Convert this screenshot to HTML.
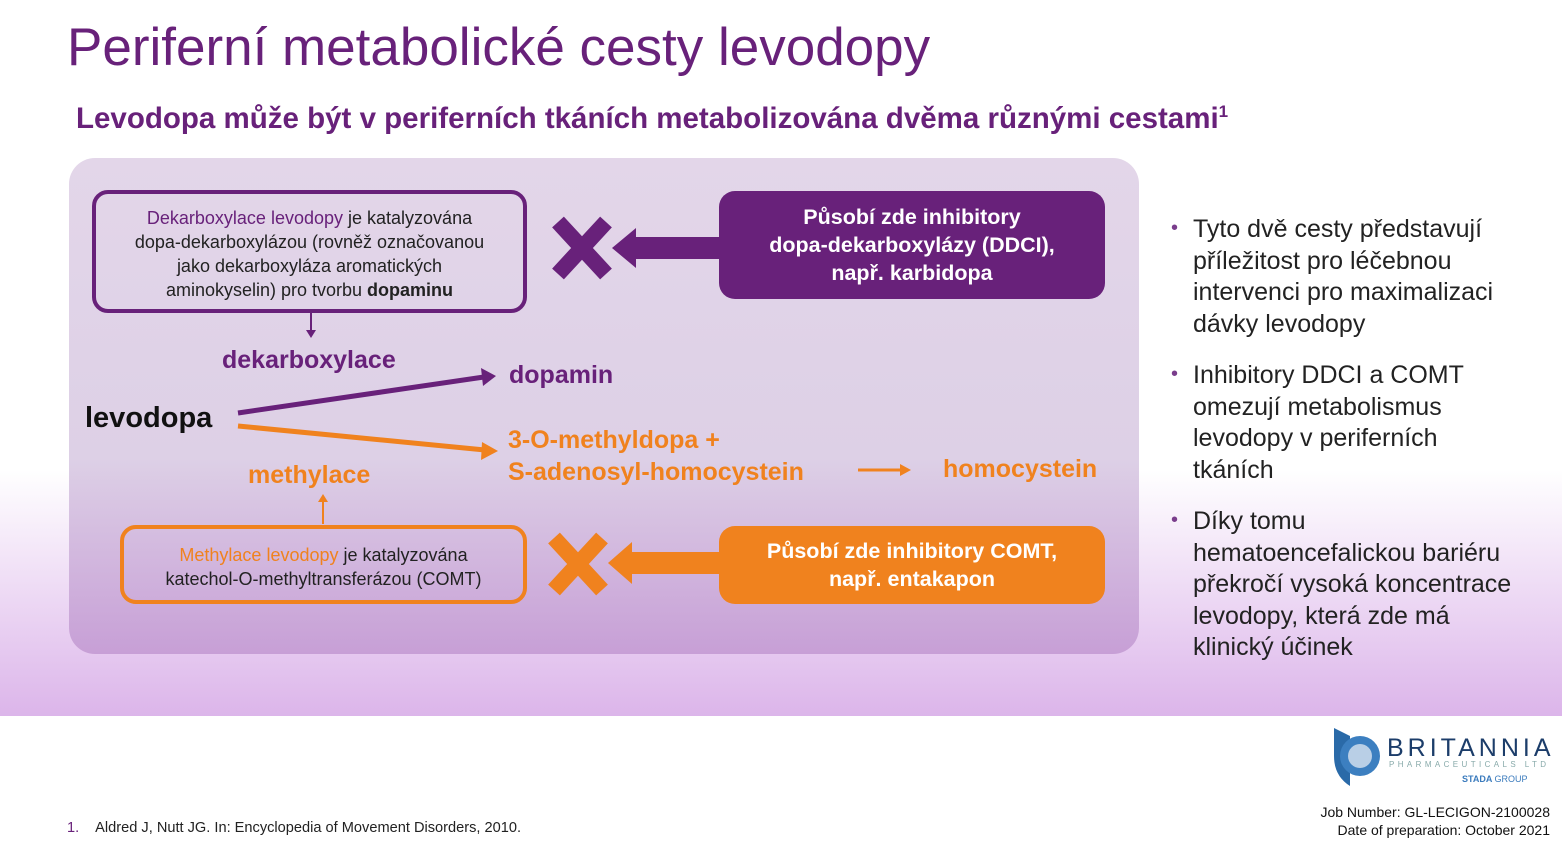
<!DOCTYPE html>
<html><head><meta charset="utf-8"><style>
*{margin:0;padding:0;box-sizing:border-box}
body{width:1562px;height:846px;position:relative;overflow:hidden;font-family:"Liberation Sans",sans-serif;background:linear-gradient(#fff 0,#fff 470px,#dcb5ea 716px,#fff 716px)}
.a{position:absolute}
.panel{left:69px;top:158px;width:1070px;height:496px;border-radius:26px;background:linear-gradient(#e3d6e9 0,#ddd0e6 300px,#c79fd6 496px)}
.box{position:absolute;border-radius:16px;text-align:center;font-size:18px;line-height:24px;color:#222}
.bold{font-weight:bold}
.pu{color:#68217a}.or{color:#f0821e}
.fill{color:#fff;font-weight:bold;font-size:21.5px;line-height:28px;display:flex;align-items:center;justify-content:center}
ul{list-style:none}
li{position:relative;padding-left:22px;margin-bottom:20px;font-size:25px;line-height:31.5px;color:#222;white-space:nowrap}
li:before{content:"•";position:absolute;left:0;top:-1px;color:#7a3d8c;font-size:20px}
</style></head><body>
<div class="a" style="left:67px;top:17px;font-size:53px;color:#68217a">Periferní metabolické cesty levodopy</div>
<div class="a bold" style="left:76px;top:102px;font-size:29.5px;color:#68217a">Levodopa může být v periferních tkáních metabolizována dvěma různými cestami<sup style="font-size:17px">1</sup></div>
<div class="a panel"></div>
<div class="box" style="left:92px;top:190px;width:435px;height:123px;border:4px solid #68217a;padding:12px 24px 0"><span class="pu">Dekarboxylace levodopy</span> je katalyzována dopa&#8209;dekarboxylázou (rovněž označovanou jako dekarboxyláza aromatických aminokyselin) pro tvorbu <b>dopaminu</b></div>
<div class="box fill" style="left:719px;top:191px;width:386px;height:108px;background:#68217a">Působí zde inhibitory<br>dopa-dekarboxylázy (DDCI),<br>např. karbidopa</div>
<div class="box" style="left:120px;top:525px;width:407px;height:79px;border:4px solid #f0821e;padding-top:14px"><span class="or">Methylace levodopy</span> je katalyzována<br>katechol-O-methyltransferázou (COMT)</div>
<div class="box fill" style="left:719px;top:526px;width:386px;height:78px;background:#f0821e">Působí zde inhibitory COMT,<br>např. entakapon</div>
<div class="a bold pu" style="left:222px;top:346px;font-size:25px">dekarboxylace</div>
<div class="a bold pu" style="left:509px;top:361px;font-size:25px">dopamin</div>
<div class="a bold" style="left:85px;top:402px;font-size:29px;color:#111">levodopa</div>
<div class="a bold or" style="left:508px;top:424px;font-size:25px;line-height:32px">3-O-methyldopa +<br>S-adenosyl-homocystein</div>
<div class="a bold or" style="left:943px;top:455px;font-size:25px">homocystein</div>
<div class="a bold or" style="left:248px;top:461px;font-size:25px">methylace</div>
<svg class="a" style="left:0;top:0" width="1562" height="846">
<g stroke="#68217a" fill="#68217a">
<line x1="311" y1="313" x2="311" y2="332" stroke-width="2"/><polygon points="306,330 316,330 311,338" stroke="none"/>
<line x1="238" y1="413" x2="484" y2="377" stroke-width="5"/><polygon points="496,376 481,368 483,386" stroke="none"/>
<polygon points="636,228 612,248 636,268" stroke="none"/><rect x="634" y="237" width="86" height="22" stroke="none"/>
<path d="M558 222 L606 274 M606 222 L558 274" stroke-width="16"/>
</g>
<g stroke="#f0821e" fill="#f0821e">
<line x1="238" y1="426" x2="485" y2="450" stroke-width="5"/><polygon points="498,451 482,442 481,460" stroke="none"/>
<line x1="858" y1="470" x2="902" y2="470" stroke-width="3"/><polygon points="911,470 900,464 900,476" stroke="none"/>
<line x1="323" y1="524" x2="323" y2="500" stroke-width="2"/><polygon points="318,502 328,502 323,494" stroke="none"/>
<polygon points="632,542 608,563 632,584" stroke="none"/><rect x="630" y="552" width="90" height="22" stroke="none"/>
<path d="M554 538 L602 590 M602 538 L554 590" stroke-width="16"/>
</g>
</svg>
<ul class="a" style="left:1171px;top:214px;width:380px">
<li>Tyto dvě cesty představují<br>příležitost pro léčebnou<br>intervenci pro maximalizaci<br>dávky levodopy</li>
<li>Inhibitory DDCI a COMT<br>omezují metabolismus<br>levodopy v periferních<br>tkáních</li>
<li>Díky tomu<br>hematoencefalickou bariéru<br>překročí vysoká koncentrace<br>levodopy, která zde má<br>klinický účinek</li>
</ul>
<svg class="a" style="left:1330px;top:726px" width="60" height="64"><path d="M4 2 L20 10 L20 60 Q4 50 4 30Z" fill="#2a6aa8"/><circle cx="30" cy="30" r="20" fill="#3c7fc0"/><circle cx="30" cy="30" r="12" fill="#b9cfe6"/></svg>
<div class="a" style="left:1387px;top:734px;font-size:25px;letter-spacing:4px;color:#1c3d6a">BRITANNIA</div>
<div class="a" style="left:1389px;top:760px;font-size:8px;letter-spacing:3.4px;color:#8aa">PHARMACEUTICALS LTD</div>
<div class="a bold" style="left:1462px;top:774px;font-size:9px;color:#3b7bbd">STADA <span style="font-weight:normal">GROUP</span></div>
<div class="a" style="left:1290px;top:803px;width:260px;text-align:right;font-size:14px;line-height:18px;color:#111">Job Number: GL-LECIGON-2100028<br>Date of preparation: October 2021</div>
<div class="a" style="left:67px;top:820px;font-size:14.6px;color:#222"><span style="color:#68217a;margin-right:16px">1.</span>Aldred J, Nutt JG. In: Encyclopedia of Movement Disorders, 2010.</div>
</body></html>
